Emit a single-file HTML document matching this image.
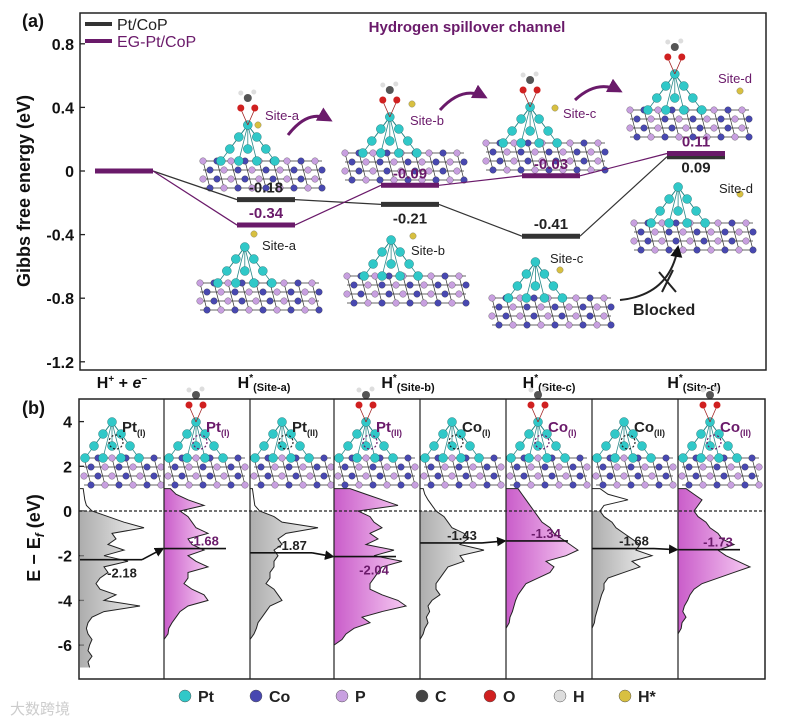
<!DOCTYPE html>
<html><head><meta charset="utf-8"><style>
html,body{margin:0;padding:0;background:#fff}
svg{display:block;font-family:"Liberation Sans",Arial,sans-serif}
</style></head><body>
<svg id="fig" width="786" height="723" viewBox="0 0 786 723" xmlns="http://www.w3.org/2000/svg">
<defs>
<linearGradient id="gGray" x1="0" x2="1" y1="0" y2="0"><stop offset="0" stop-color="#8a8a8a"/><stop offset="1" stop-color="#e8e8e8"/></linearGradient>
<linearGradient id="gPink" x1="0" x2="1" y1="0" y2="0"><stop offset="0" stop-color="#c040c0"/><stop offset="1" stop-color="#f4c0f0"/></linearGradient>
<marker id="arr" markerWidth="6" markerHeight="6" refX="5" refY="3" orient="auto"><path d="M0,0 L6,3 L0,6 z" fill="#111"/></marker>
<marker id="arrP" markerWidth="5" markerHeight="5" refX="4" refY="2.5" orient="auto"><path d="M0,0 L5,2.5 L0,5 z" fill="#6a1a6a"/></marker>
</defs>
</svg>
<script>
// ---------- Panel (a) data ----------
const steps = ["H+ + e-", "Site-a", "Site-b", "Site-c", "Site-d"];
const ptCoP = [0, -0.18, -0.21, -0.41, 0.09];
const egPtCoP = [0, -0.34, -0.09, -0.03, 0.11];
const yTicksA = [0.8, 0.4, 0, -0.4, -0.8, -1.2];
// ---------- Panel (b) data ----------
const dosEnergies = [1.0,0.75,0.5,0.25,0,-0.25,-0.5,-0.75,-1,-1.25,-1.5,-1.75,-2,-2.25,-2.5,-2.75,-3,-3.25,-3.5,-3.75,-4,-4.25,-4.5,-4.75,-5,-5.25,-5.5,-5.75,-6,-6.25,-6.5,-6.75,-7];
const dosPanels = [
 [0.04,0.05,0.06,0.08,0.15,0.35,0.55,0.8,0.4,0.45,0.35,0.55,0.3,0.6,0.3,0.35,0.25,0.2,0.25,0.45,0.3,0.75,0.3,0.15,0.1,0.08,0.1,0.15,0.12,0.1,0.15,0.1,0.12],
 [0.08,0.15,0.3,0.5,0.2,0.3,0.35,0.4,0.55,0.3,0.35,0.5,0.3,0.4,0.55,0.3,0.3,0.25,0.35,0.5,0.55,0.3,0.2,0.15,0.1,0.06,0.05,0,0,0,0,0,0],
 [0.03,0.04,0.05,0.06,0.12,0.3,0.4,0.85,0.45,0.35,0.4,0.3,0.35,0.3,0.3,0.25,0.25,0.2,0.3,0.35,0.4,0.25,0.2,0.15,0.1,0.08,0.05,0,0,0,0,0,0],
 [0.2,0.4,0.6,0.8,0.3,0.45,0.5,0.6,0.45,0.55,0.4,0.75,0.5,0.85,0.6,0.55,0.5,0.45,0.45,0.6,0.8,0.9,0.6,0.35,0.45,0.25,0.15,0.1,0,0,0,0,0],
 [0.04,0.06,0.1,0.15,0.2,0.3,0.35,0.4,0.55,0.6,0.5,0.8,0.5,0.55,0.35,0.3,0.25,0.2,0.2,0.25,0.15,0.1,0.12,0.08,0.1,0.06,0.04,0,0,0,0,0,0],
 [0.15,0.2,0.25,0.3,0.35,0.4,0.45,0.55,0.6,0.7,0.8,0.9,0.75,0.5,0.6,0.55,0.4,0.25,0.2,0.15,0.12,0.1,0.08,0.05,0.04,0,0,0,0,0,0,0,0],
 [0.1,0.2,0.45,0.15,0.1,0.15,0.25,0.3,0.4,0.5,0.6,0.55,0.75,0.5,0.6,0.4,0.2,0.15,0.15,0.12,0.1,0.08,0.06,0.04,0.03,0,0,0,0,0,0,0,0],
 [0.1,0.2,0.3,0.25,0.2,0.25,0.35,0.4,0.5,0.55,0.7,0.5,0.6,0.75,0.9,0.7,0.5,0.3,0.2,0.15,0.12,0.08,0.06,0.1,0.05,0.04,0,0,0,0,0,0,0]
];
const dCenters = [-2.18, -1.68, -1.87, -2.04, -1.43, -1.34, -1.68, -1.73];
const dLabels = ["-2.18","-1.68","-1.87","-2.04","-1.43","-1.34","-1.68","-1.73"];
const siteLabels = [["Pt","(I)"],["Pt","(I)"],["Pt","(II)"],["Pt","(II)"],["Co","(I)"],["Co","(I)"],["Co","(II)"],["Co","(II)"]];
const yTicksB = [4, 2, 0, -2, -4, -6];

const NS = "http://www.w3.org/2000/svg";
const svg = document.getElementById("fig");
function el(tag, attrs, parent) {
  const e = document.createElementNS(NS, tag);
  for (const k in attrs) e.setAttribute(k, attrs[k]);
  (parent || svg).appendChild(e);
  return e;
}
function txt(s, x, y, size, fill, anchor, weight, parent) {
  const t = el("text", {x:x, y:y, "font-size":size, fill:fill||"#111", "text-anchor":anchor||"start", "font-weight":weight||"bold"}, parent);
  t.textContent = s;
  return t;
}

const yA = v => 171 - v * 159;
const barX = [95, 237, 381, 522, 667];
const barW = 58;
const yB = e => 511 - e * 22.35;
const panelLeft = [80, 164, 250, 334, 420, 506, 592, 678];
const dosScale = 80;

// ---------- Panel (a) frame ----------
const frameA = el("rect", {x:80, y:13, width:686, height:357, fill:"none", stroke:"#222", "stroke-width":1.5});


const la = txt("(a)", 22, 27, 18, "#111");


yTicksA.forEach(v => {
  const tk = el("line", {x1:80, x2:85, y1:yA(v), y2:yA(v), stroke:"#222", "stroke-width":1.3});
  
  
  const t = txt(v === 0 ? "0" : v.toFixed(1), 74, yA(v) + 6, 16, "#111", "end");
  
  
});
const yt = txt("Gibbs free energy (eV)", 0, 0, 18, "#111", "middle");
yt.setAttribute("transform", "translate(30,191) rotate(-90)");



const lg1 = el("line", {x1:85, x2:112, y1:24, y2:24, stroke:"#333", "stroke-width":4});


const lt1 = txt("Pt/CoP", 117, 30, 16, "#222", "start", "normal");


const lg2 = el("line", {x1:85, x2:112, y1:41, y2:41, stroke:"#6a1a6a", "stroke-width":4});


const lt2 = txt("EG-Pt/CoP", 117, 47, 16, "#6a1a6a", "start", "normal");


const ttl = txt("Hydrogen spillover channel", 467, 32, 15, "#6a1a6a", "middle");



function structure(x, y, w, withEG, hSite, name) {
  const g = el("g", {});
  
  
  const slabTop = y + 48, n = Math.floor((w - 7) / 14);
  for (let r = 0; r < 4; r++) {
    const yy = slabTop + r * 9;
    el("line", {x1:x, x2:x + n*14 + 7, y1:yy, y2:yy, stroke:"#333", "stroke-width":0.8}, g);
  }
  for (let c = 0; c <= n; c++) el("line", {x1:x + c*14, x2:x + c*14 + 7, y1:slabTop, y2:slabTop+27, stroke:"#333", "stroke-width":0.7}, g);
  for (let r = 0; r < 4; r++) for (let c = 0; c <= n; c++) {
    const purple = (r + c) % 2 === 0;
    el("circle", {cx:x + c*14 + (r%2?7:0), cy:slabTop + r*9, r:3.3, fill: purple ? "#c8a0e0" : "#4848b0", stroke:"#333", "stroke-width":0.3}, g);
  }
  const cx = x + w*0.35;
  const pts = [[0,0],[-9,12],[9,12],[-18,24],[0,24],[18,24],[-27,36],[-9,36],[9,36],[27,36]];
  pts.forEach(p => el("line", {x1:cx, y1:y+12, x2:cx+p[0], y2:y+12+p[1], stroke:"#2a8a8a", "stroke-width":0.8}, g));
  pts.forEach(p => el("circle", {cx:cx+p[0], cy:y+12+p[1], r:4.5, fill:"#30c8c8", stroke:"#1a6a6a", "stroke-width":0.4}, g));
  if (withEG) {
    el("line", {x1:cx, y1:y+12, x2:cx-7, y2:y-4, stroke:"#a02020", "stroke-width":0.8}, g);
    el("line", {x1:cx, y1:y+12, x2:cx+7, y2:y-4, stroke:"#a02020", "stroke-width":0.8}, g);
    el("circle", {cx:cx-7, cy:y-5, r:3.5, fill:"#d02020"}, g);
    el("circle", {cx:cx+7, cy:y-5, r:3.5, fill:"#d02020"}, g);
    el("circle", {cx:cx, cy:y-15, r:4, fill:"#555"}, g);
    el("circle", {cx:cx-7, cy:y-20, r:2.5, fill:"#ddd"}, g);
    el("circle", {cx:cx+6, cy:y-21, r:2.5, fill:"#ddd"}, g);
  }
  if (hSite) el("circle", {cx:hSite[0], cy:hSite[1], r:3.2, fill:"#d8c040", stroke:"#776", "stroke-width":0.4}, g);
  return g;
}
structure(203, 113, 128, true, [258,125], "structure-eg-site-a");
structure(345, 105, 128, true, [412,104], "structure-eg-site-b");
structure(486, 95, 126, true, [555,108], "structure-eg-site-c");
structure(630, 62, 128, true, [740,91], "structure-eg-site-d");
structure(200, 235, 128, false, [254,234], "structure-site-a");
structure(347, 228, 126, false, [413,236], "structure-site-b");
structure(492, 250, 124, false, [560,270], "structure-site-c");
structure(634, 175, 126, false, [740,194], "structure-site-d");
[["Site-a",265,120,"#6a1a6a"],["Site-b",410,125,"#6a1a6a"],["Site-c",563,118,"#6a1a6a"],["Site-d",718,83,"#6a1a6a"],
 ["Site-a",262,250,"#222"],["Site-b",411,255,"#222"],["Site-c",550,263,"#222"],["Site-d",719,193,"#222"]].forEach(s => {
  const t = txt(s[0], s[1], s[2], 13, s[3], "start", "normal");
  
  
});
[[288,135,330,120],[440,110,485,97],[575,100,620,91]].forEach(a => {
  const p = el("path", {d:`M${a[0]},${a[1]} Q${(a[0]+a[2])/2},${a[3]-12} ${a[2]},${a[3]}`, fill:"none", stroke:"#6a1a6a", "stroke-width":3, "marker-end":"url(#arrP)"});
  
  
});
const blk = el("path", {d:"M620,300 Q670,295 678,247", fill:"none", stroke:"#222", "stroke-width":2, "marker-end":"url(#arr)"});


const bx = el("path", {d:"M659,272 L676,292 M662,292 L673,270", stroke:"#222", "stroke-width":2, fill:"none"});


const bt = txt("Blocked", 633, 315, 16, "#222", "start", "bold");



function levels(vals, color, name) {
  for (let i = 1; i < vals.length; i++) {
    const c = el("line", {x1:barX[i-1]+barW, y1:yA(vals[i-1]), x2:barX[i], y2:yA(vals[i]), stroke:color, "stroke-width":1.2});
    
    
  }
  for (let i = 0; i < vals.length; i++) {
    const b = el("line", {x1:barX[i], x2:barX[i]+barW, y1:yA(vals[i]), y2:yA(vals[i]), stroke:color, "stroke-width":5});
    
    
  }
}
levels(ptCoP, "#333", "ptcop");
levels(egPtCoP, "#6a1a6a", "egptcop");
const blackBelow = [false, false, true, false, true];
for (let i = 1; i < 5; i++) {
  const yb = yA(ptCoP[i]);
  const t = txt(ptCoP[i].toFixed(2), barX[i] + barW/2, blackBelow[i] ? (i===4 ? yb+16 : yb+19) : yb-7, 15, "#222", "middle");
  
  
  const yp = yA(egPtCoP[i]);
  const tp = txt(egPtCoP[i].toFixed(2), barX[i] + barW/2, yp - 7, 15, "#6a1a6a", "middle");
  
  
}
const xl0 = el("text", {x:122, y:388, "font-size":16, "font-weight":"bold", "text-anchor":"middle", fill:"#111"});
xl0.innerHTML = 'H<tspan font-size="10" dy="-6">+</tspan><tspan dy="6"> + </tspan><tspan font-style="italic">e</tspan><tspan font-size="10" dy="-6">−</tspan>';


for (let i = 1; i < 5; i++) {
  const t = el("text", {x:barX[i] + barW/2 - 2, y:388, "font-size":16, "font-weight":"bold", "text-anchor":"middle", fill:"#111"});
  t.innerHTML = 'H<tspan font-size="10" dy="-7">*</tspan><tspan font-size="11" dy="10">(' + steps[i] + ')</tspan>';
  
  
}

// ---------- Panel (b) ----------
const lb = txt("(b)", 22, 414, 18, "#111");


yTicksB.forEach(v => {
  const tk = el("line", {x1:79, x2:84, y1:yB(v), y2:yB(v), stroke:"#222", "stroke-width":1.3});
  
  
  const t = txt(String(v), 72, yB(v) + 6, 16, "#111", "end");
  
  
});
const ytb = el("text", {"font-size":18, "font-weight":"bold", "text-anchor":"middle", fill:"#111", transform:"translate(40,538) rotate(-90)"});
ytb.innerHTML = 'E − E<tspan font-size="12" dy="4" font-style="italic">f</tspan><tspan dy="-4"> (eV)</tspan>';



dosPanels.forEach((vals, p) => {
  const left = panelLeft[p];
  const even = p % 2 === 1;
  let d = `M${left},${yB(dosEnergies[0])}`;
  vals.forEach((v, i) => { d += ` L${left + v*dosScale},${yB(dosEnergies[i])}`; });
  let fd;
  if (even) {
    fd = d + ` L${left},${yB(dosEnergies[dosEnergies.length-1])} Z`;
  } else {
    const i0 = 4;
    fd = `M${left},${yB(dosEnergies[i0])}`;
    for (let i = i0; i < vals.length; i++) fd += ` L${left + vals[i]*dosScale},${yB(dosEnergies[i])}`;
    fd += ` L${left},${yB(dosEnergies[dosEnergies.length-1])} Z`;
  }
  const f = el("path", {d:fd, fill: even ? "url(#gPink)" : "url(#gGray)", opacity: even ? 0.85 : 0.7});
  
  
  const c = el("path", {d:d, fill:"none", stroke:"#222", "stroke-width":1});
  
  
  structure(left + 4, 410, 80, even, null, 'dos-structure-' + (p+1));
  const sl = el("text", {x:left + 42, y:432, "font-size":15, "font-weight":"bold", fill: even ? "#6a1a6a" : "#222"});
  sl.innerHTML = siteLabels[p][0] + '<tspan font-size="9" dy="4">' + siteLabels[p][1] + '</tspan>';
  
  
  const ring = el("circle", {cx:left + 36, cy:442, r:7, fill:"none", stroke: even ? "#6a1a6a" : "#222", "stroke-width":1.2, "stroke-dasharray":"2,2"});
  
  
});
const fl = el("line", {x1:79, x2:765, y1:yB(0), y2:yB(0), stroke:"#222", "stroke-width":1.2, "stroke-dasharray":"3,2"});


dCenters.forEach((e, p) => {
  const left = panelLeft[p];
  const x1 = left, x2 = left + 62;
  const ln = el("line", {x1:x1, x2:x2, y1:yB(e), y2:yB(e), stroke:"#111", "stroke-width":1.6});
  
  
  if (p % 2 === 0) {
    const ar = el("line", {x1:x2, y1:yB(e), x2:panelLeft[p+1] - 1, y2:yB(dCenters[p+1]), stroke:"#111", "stroke-width":1.6, "marker-end":"url(#arr)"});
    
    
  }
  const below = (p === 0 || p === 3);
  const t = txt(dLabels[p], left + (p % 2 ? 40 : 42), below ? yB(e) + 18 : yB(e) - 3, 13, p % 2 ? "#6a1a6a" : "#222", "middle");
  
  
});
const frameB = el("rect", {x:79, y:399, width:686, height:280, fill:"none", stroke:"#222", "stroke-width":1.5});


for (let p = 1; p < 8; p++) {
  const s = el("line", {x1:panelLeft[p], x2:panelLeft[p], y1:399, y2:679, stroke:"#222", "stroke-width":1.2});
  
  
}
[["Pt","#30c8c8",185],["Co","#4848b0",256],["P","#c8a0e0",342],["C","#444",422],["O","#d02020",490],["H","#ddd",560],["H*","#d8c040",625]].forEach(a => {
  const c = el("circle", {cx:a[2], cy:696, r:6, fill:a[1], stroke:"#555", "stroke-width":0.5});
  
  
  const t = txt(a[0], a[2] + 13, 702, 16, "#222", "start");
  
  
});
const wm = el("text", {x:10, y:714, "font-size":15, fill:"#ccc", "font-family":"'Liberation Sans','Noto Sans CJK SC',sans-serif"});
wm.textContent = "大数跨境";


</script>
</body></html>
